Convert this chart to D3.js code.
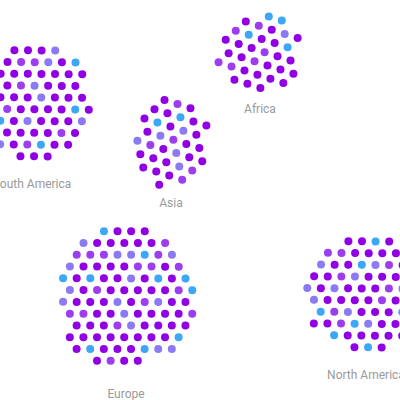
<!DOCTYPE html>
<html>
<head>
<meta charset="utf-8">
<script src="https://cdn.jsdelivr.net/npm/d3@7"></script>
<style>
  html, body { margin: 0; padding: 0; background: #ffffff; }
  svg { display: block; }
</style>
</head>
<body>
<svg id="chart" width="400" height="400"></svg>
<script>
// ---- data ----
const continents   = ["South America", "Africa", "Asia", "Europe", "North America"];
const deepCounts   = [47, 22, 22, 58, 45];
const violetCounts = [10, 6, 5, 16, 9];
const periCounts   = [8, 1, 5, 14, 9];
const blueCounts   = [5, 4, 2, 10, 7];
const groups = ["deep", "violet", "peri", "blue"];

// ---- layout (not data) ----
const W = 400, H = 400;
const focusX = [32, 260, 171, 126, 366];
const focusY = [102, 53, 142, 297, 293];
const pullX  = [0.09, 0.06, 0.12, 0.09, 0.09];
const pullY  = [0.09, 0.11, 0.07, 0.09, 0.09];
const dotR = 4, collideR = 6.8;

const color = d3.scaleOrdinal()
  .domain(groups)
  .range(["#9100E4", "#9D3DF0", "#8A7BF4", "#3CA7F7"]);

const fx = d3.scaleOrdinal().domain(continents).range(focusX);
const fy = d3.scaleOrdinal().domain(continents).range(focusY);
const sx = d3.scaleOrdinal().domain(continents).range(pullX);
const sy = d3.scaleOrdinal().domain(continents).range(pullY);

const shuffle = d3.shuffler(d3.randomLcg(0.4271));
const nodes = [];
continents.forEach((c, ci) => {
  const list = [];
  const counts = [deepCounts[ci], violetCounts[ci], periCounts[ci], blueCounts[ci]];
  counts.forEach((n, gi) => { for (let k = 0; k < n; k++) list.push(groups[gi]); });
  shuffle(list);
  list.forEach((g, i) => {
    const a = i * Math.PI * (3 - Math.sqrt(5));
    const rr = 6 * Math.sqrt(i + 0.5);
    nodes.push({ continent: c, group: g, x: fx(c) + rr * Math.cos(a), y: fy(c) + rr * Math.sin(a) });
  });
});

const sim = d3.forceSimulation(nodes)
  .force("x", d3.forceX(d => fx(d.continent)).strength(d => sx(d.continent)))
  .force("y", d3.forceY(d => fy(d.continent)).strength(d => sy(d.continent)))
  .force("collide", d3.forceCollide(collideR).iterations(3))
  .stop();
for (let i = 0; i < 400; i++) sim.tick();

const svg = d3.select("#chart");

svg.append("g")
  .selectAll("circle")
  .data(nodes)
  .join("circle")
  .attr("cx", d => d.x)
  .attr("cy", d => d.y)
  .attr("r", dotR)
  .attr("fill", d => color(d.group));

const totals = continents.map((c, i) => deepCounts[i] + violetCounts[i] + periCounts[i] + blueCounts[i]);

svg.append("g")
  .selectAll("text")
  .data(continents)
  .join("text")
  .attr("x", d => fx(d))
  .attr("y", (d, i) => fy(d) + 9.9 * Math.sqrt(totals[i]) + (d === "Asia" ? 4 : 0))
  .attr("text-anchor", "middle")
  .attr("dominant-baseline", "middle")
  .attr("font-family", "Roboto, 'Open Sans', sans-serif")
  .attr("font-size", 12)
  .attr("fill", "#9a9a9a")
  .text(d => d);
</script>
</body>
</html>
